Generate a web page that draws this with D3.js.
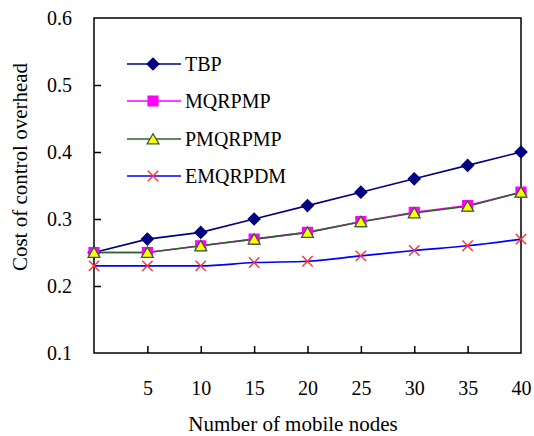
<!DOCTYPE html>
<html>
<head>
<meta charset="utf-8">
<script src="https://cdn.jsdelivr.net/npm/d3@7"></script>
<style>
  body { margin: 0; background: #fff; }
  text { font-family: "Liberation Serif", "Times New Roman", serif; fill: #000; }
</style>
</head>
<body>
<svg id="chart" width="534" height="436"></svg>
<script>
// data
var nodes = [0, 5, 10, 15, 20, 25, 30, 35, 40];
var xTickLabels = [5, 10, 15, 20, 25, 30, 35, 40];
var yTickLabels = [0.1, 0.2, 0.3, 0.4, 0.5, 0.6];

var tbp      = [0.25, 0.27, 0.28, 0.30, 0.32, 0.34, 0.36, 0.38, 0.40];
var mqrpmp   = [0.25, 0.25, 0.26, 0.27, 0.28, 0.296, 0.31, 0.32, 0.34];
var pmqrpmp  = [0.25, 0.25, 0.26, 0.27, 0.28, 0.296, 0.309, 0.319, 0.34];
var emqrpdm  = [0.23, 0.23, 0.23, 0.235, 0.237, 0.245, 0.253, 0.26, 0.27];

var seriesNames = ["TBP", "MQRPMP", "PMQRPMP", "EMQRPDM"];

var series = [
  {name: seriesNames[0], values: tbp, line: "#000080", fill: "#000080", stroke: "#000080", symbol: "diamond", curve: d3.curveLinear},
  {name: seriesNames[1], values: mqrpmp, line: "#ff00ff", fill: "#ff00ff", stroke: "#ff00ff", symbol: "square", curve: d3.curveLinear},
  {name: seriesNames[2], values: pmqrpmp, line: "#2f5f2f", fill: "#ffff00", stroke: "#2f5f2f", symbol: "triangle", curve: d3.curveLinear},
  {name: seriesNames[3], values: emqrpdm, line: "#0000ff", fill: "none", stroke: "#ff3333", symbol: "cross", curve: d3.curveMonotoneX}
];

var margin = {top: 18, right: 13, bottom: 83, left: 94};
var width = 534 - margin.left - margin.right;
var height = 436 - margin.top - margin.bottom;

var svg = d3.select("#chart");
var g = svg.append("g")
    .attr("transform", "translate(" + margin.left + "," + margin.top + ")");

var x = d3.scaleLinear().domain([0, 40]).range([0, width]);
var y = d3.scaleLinear().domain([0.1, 0.6]).range([height, 0]);

// axes, ticks pointing inward
var xAxis = d3.axisBottom(x)
    .tickValues(xTickLabels)
    .tickSize(-7)
    .tickPadding(28)
    .tickFormat(function(d) { return d; });

var yAxis = d3.axisLeft(y)
    .tickValues(yTickLabels)
    .tickSize(-7)
    .tickPadding(22)
    .tickFormat(d3.format(".1f"));

var gx = g.append("g")
    .attr("transform", "translate(0," + height + ")")
    .call(xAxis);
var gy = g.append("g").call(yAxis);

[gx, gy].forEach(function(a) {
  a.attr("font-family", null);
  a.select(".domain").remove();
  a.selectAll("line").attr("stroke", "#000").attr("stroke-width", 1.5);
  a.selectAll("text")
    .attr("font-size", 20)
    .attr("fill", "#000");
});
// no inner tick at the frame edges
gy.selectAll(".tick").filter(function(d) { return d === 0.1 || d === 0.6; }).select("line").remove();
gx.selectAll(".tick").filter(function(d) { return d === 40; }).select("line").remove();

// frame
g.append("rect")
    .attr("width", width)
    .attr("height", height)
    .attr("fill", "none")
    .attr("stroke", "#000")
    .attr("stroke-width", 1.5);

// axis titles
svg.append("text")
    .attr("x", 293)
    .attr("y", 431)
    .attr("text-anchor", "middle")
    .attr("font-size", 21)
    .text("Number of mobile nodes");

svg.append("text")
    .attr("transform", "translate(27,167) rotate(-90)")
    .attr("text-anchor", "middle")
    .attr("font-size", 21)
    .text("Cost of control overhead");

// marker shapes
var symbolType = {
  diamond: d3.symbolSquare,
  square: d3.symbolSquare,
  triangle: d3.symbolTriangle,
  cross: d3.symbolX
};
var symbolSize = {diamond: 72, square: 100, triangle: 62, cross: 72};
var symbolShift = {diamond: 0, square: 0, triangle: 1.5, cross: 0};

function markerTransform(s, px, py) {
  var t = "translate(" + px + "," + (py + symbolShift[s.symbol]) + ")";
  if (s.symbol === "diamond") t += " rotate(45)";
  return t;
}

function drawMarker(sel, s) {
  sel.attr("d", d3.symbol().type(symbolType[s.symbol]).size(symbolSize[s.symbol]))
    .attr("fill", s.fill)
    .attr("stroke", s.stroke)
    .attr("stroke-width", s.symbol === "cross" ? 1.4 : 1.2);
}

// lines first, then markers
series.forEach(function(s) {
  var line = d3.line()
      .x(function(d, i) { return x(nodes[i]); })
      .y(function(d) { return y(d); })
      .curve(s.curve);
  g.append("path")
      .datum(s.values)
      .attr("d", line)
      .attr("fill", "none")
      .attr("stroke", s.line)
      .attr("stroke-width", 1.6);
});

series.forEach(function(s) {
  g.selectAll(null)
      .data(s.values)
      .enter().append("path")
      .attr("transform", function(d, i) { return markerTransform(s, x(nodes[i]), y(d)); })
      .call(drawMarker, s);
});

// legend
var legend = svg.append("g");
var rowY = [64, 101, 139, 176];
series.forEach(function(s, i) {
  var row = legend.append("g").attr("transform", "translate(0," + rowY[i] + ")");
  row.append("line")
      .attr("x1", 127).attr("x2", 181)
      .attr("stroke", s.line)
      .attr("stroke-width", 1.6);
  row.append("path")
      .attr("transform", markerTransform(s, 153, 0))
      .call(drawMarker, s);
  row.append("text")
      .attr("x", 185)
      .attr("y", 7)
      .attr("font-size", 20)
      .text(s.name);
});
</script>
</body>
</html>
